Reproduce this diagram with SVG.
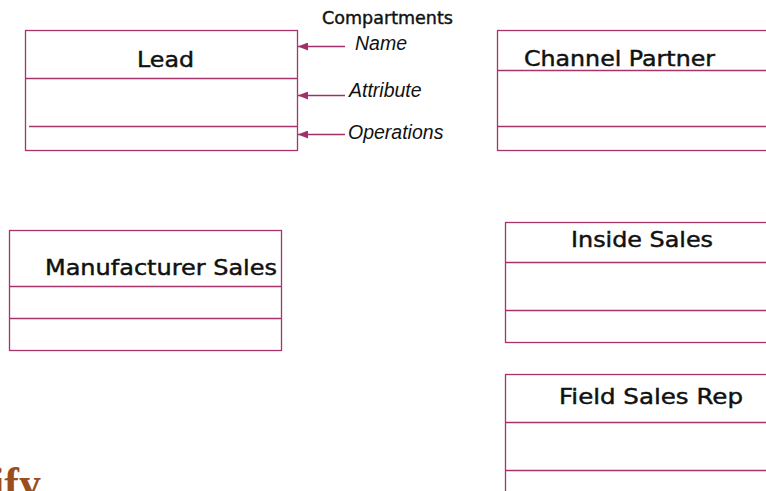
<svg xmlns="http://www.w3.org/2000/svg" width="766" height="491" viewBox="0 0 766 491">
<style>
.box{fill:none;stroke:#a8346c;stroke-width:1.3}
.div{stroke:#a8346c;stroke-width:1.3}
.cn{font-family:"DejaVu Sans",Verdana,sans-serif;font-size:21px;fill:#111;stroke:#111;stroke-width:0.45}
.title{font-family:"DejaVu Sans",Verdana,sans-serif;font-size:17px;fill:#111;stroke:#111;stroke-width:0.4}
.lbl{font-family:"Liberation Sans",Arial,sans-serif;font-size:19.5px;font-style:italic;fill:#111}
.arr{stroke:#a0306a;stroke-width:1.3;fill:none}
</style>
<defs>
<marker id="ah" viewBox="0 0 10 8" refX="10" refY="4" markerWidth="10" markerHeight="8" markerUnits="userSpaceOnUse" orient="auto">
<path d="M0,0 L10,4 L0,8 Z" fill="#a0306a"/>
</marker>
</defs>
<rect width="766" height="491" fill="#fff"/>

<g id="lead">
<rect class="box" x="25.5" y="30.5" width="272" height="120"/>
<line class="div" x1="25.5" y1="78.5" x2="297.5" y2="78.5"/>
<line class="div" x1="29" y1="126.5" x2="297.5" y2="126.5"/>
<text class="cn" x="137" y="67" textLength="57" lengthAdjust="spacingAndGlyphs">Lead</text>
</g>

<g id="channel-partner">
<rect class="box" x="497.5" y="30.5" width="280" height="120"/>
<line class="div" x1="497.5" y1="70.5" x2="777" y2="70.5"/>
<line class="div" x1="497.5" y1="126.5" x2="777" y2="126.5"/>
<text class="cn" x="524" y="66" textLength="191" lengthAdjust="spacingAndGlyphs">Channel Partner</text>
</g>

<g id="manufacturer-sales">
<rect class="box" x="9.5" y="230.5" width="272" height="120"/>
<line class="div" x1="9.5" y1="286.5" x2="281.5" y2="286.5"/>
<line class="div" x1="9.5" y1="318.5" x2="281.5" y2="318.5"/>
<text class="cn" x="45" y="275" textLength="232" lengthAdjust="spacingAndGlyphs">Manufacturer Sales</text>
</g>

<g id="inside-sales">
<rect class="box" x="505.5" y="222.5" width="280" height="120"/>
<line class="div" x1="505.5" y1="262.5" x2="777" y2="262.5"/>
<line class="div" x1="505.5" y1="310.5" x2="777" y2="310.5"/>
<text class="cn" x="571" y="247" textLength="142" lengthAdjust="spacingAndGlyphs">Inside Sales</text>
</g>

<g id="field-sales-rep">
<rect class="box" x="505.5" y="374.5" width="280" height="140"/>
<line class="div" x1="505.5" y1="422.5" x2="777" y2="422.5"/>
<line class="div" x1="505.5" y1="470.5" x2="777" y2="470.5"/>
<text class="cn" x="559" y="404" textLength="184" lengthAdjust="spacingAndGlyphs">Field Sales Rep</text>
</g>

<g id="compartments">
<text class="title" x="322" y="24" textLength="131" lengthAdjust="spacingAndGlyphs">Compartments</text>
<text class="lbl" x="355" y="50">Name</text>
<text class="lbl" x="349" y="97">Attribute</text>
<text class="lbl" x="348" y="139">Operations</text>
</g>

<g id="connectors">
<line class="arr" x1="345" y1="46.5" x2="298" y2="46.5" marker-end="url(#ah)"/>
<line class="arr" x1="345" y1="95.5" x2="298" y2="95.5" marker-end="url(#ah)"/>
<line class="arr" x1="345" y1="134.5" x2="298" y2="134.5" marker-end="url(#ah)"/>
</g>

<text x="-8" y="498" font-family="Liberation Serif,serif" font-size="44" font-weight="bold" fill="#9a4e1c">ify</text>
</svg>
